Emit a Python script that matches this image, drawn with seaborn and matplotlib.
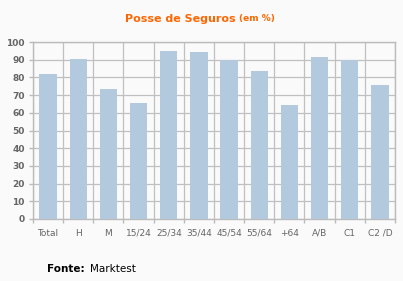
import matplotlib
matplotlib.use("Agg")
import matplotlib.pyplot as plt
import seaborn as sns
import pandas as pd
import numpy as np

categories = ["Total", "H", "M", "15/24", "25/34", "35/44", "45/54", "55/64", "+64", "A/B", "C1", "C2 /D"]
values = [82, 90.5, 73.5, 65.5, 95, 94.5, 90, 83.5, 64.5, 91.5, 90, 75.5]
yticks = [0, 10, 20, 30, 40, 50, 60, 70, 80, 90, 100]

sns.set_theme(style="white")
plt.rcParams['font.family'] = ['DejaVu Sans']

df = pd.DataFrame({"cat": categories, "val": values})

fig = plt.figure(figsize=(4.03, 2.81), dpi=100, facecolor="#fafafa")
ax = fig.add_axes([33/403, 1 - 219/281, 362/403, 177/281])
ax.set_facecolor("#fafafa")

sns.barplot(data=df, x="cat", y="val", color="#b3c9de", saturation=1, width=0.58,
            linewidth=0, edgecolor="none", ax=ax, zorder=3)

ax.set_xlim(-0.5, len(categories) - 0.5)
ax.set_ylim(0, 100)
ax.set_yticks(yticks)
ax.set_yticklabels([str(t) for t in yticks], fontsize=6.5, color="#666666", fontweight="bold")
ax.set_xticks(range(len(categories)))
ax.set_xticklabels(categories, fontsize=6.5, color="#666666")
ax.set_xticks(np.arange(-0.5, len(categories)), minor=True)
ax.tick_params(axis="x", which="major", length=0, pad=7)
ax.tick_params(axis="x", which="minor", length=3, color="#bbbbbb", width=1, bottom=True)
ax.tick_params(axis="y", which="major", length=3, color="#bbbbbb", width=1, left=True, pad=3)
ax.set_xlabel("")
ax.set_ylabel("")

ax.grid(False)
ax.yaxis.grid(True, color="#c0c0c0", linewidth=0.9, zorder=0)
ax.xaxis.grid(True, which="minor", color="#c0c0c0", linewidth=0.9, zorder=0)
for s in ax.spines.values():
    s.set_color("#bbbbbb")
    s.set_linewidth(1)

tx = 239/403
fig.text(tx, 1 - 19/281, "Posse de Seguros ", ha="right", va="center",
         fontsize=8, fontweight="bold", color="#ff6600")
fig.text(tx, 1 - 19/281, "(em %)", ha="left", va="center",
         fontsize=6.5, fontweight="bold", color="#ff6600")

fig.text(47/403, 1 - 269/281, "Fonte:", ha="left", va="center",
         fontsize=7.5, fontweight="bold", color="#000000")
fig.text(90/403, 1 - 269/281, "Marktest", ha="left", va="center",
         fontsize=7.5, color="#000000")

fig.savefig("out.png", dpi=100, facecolor="#fafafa")
